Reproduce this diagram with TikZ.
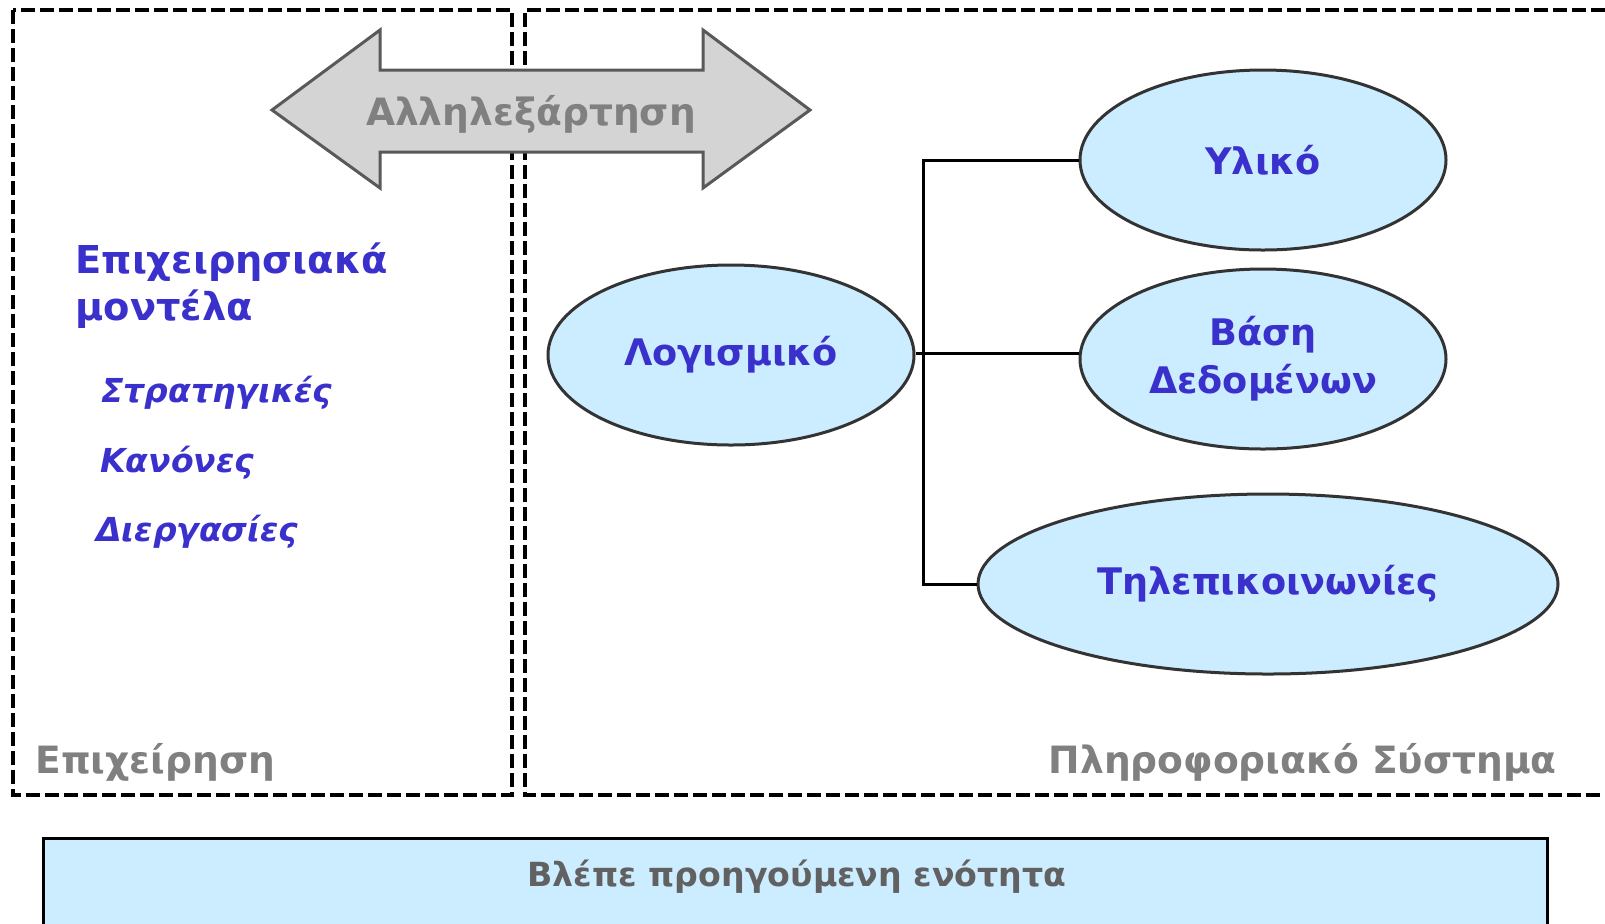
\documentclass[tikz,border=0pt]{standalone}
\usepackage{fontspec}
\setmainfont{DejaVu Sans}
\usepackage{tikz}
\usetikzlibrary{shapes.geometric, calc}
\usepackage{xcolor}
\definecolor{textblue}{RGB}{58,48,204}
\definecolor{textgray}{RGB}{128,128,128}
\definecolor{arrowfill}{RGB}{212,212,212}
\definecolor{partfill}{RGB}{204,236,255}

\begin{document}
\begin{tikzpicture}[x=0.5pt, y=-0.5pt,
    zone/.style={line width=1.8pt, dash pattern=on 7pt off 2.5pt},
    part/.style={ellipse, draw=black!80, line width=1.5pt, fill=partfill, inner sep=0pt,
        minimum width=183pt, minimum height=90pt, text=textblue, align=center,
        font=\bfseries\fontsize{18.3}{24}\selectfont},
    label/.style={text=textgray, font=\bfseries\fontsize{18.8}{22}\selectfont, inner sep=0pt},
    item/.style={text=textblue, font=\bfseries\itshape\fontsize{16.5}{20}\selectfont, anchor=base west, inner sep=0pt}]
        \useasboundingbox (0,0) rectangle (1605,923);
        \draw[zone] (13,10) rectangle (512,795);
        \draw[zone] (1605,10) -- (525,10) -- (525,795) -- (1605,795);
        \filldraw[fill=arrowfill, draw=black!65, line width=1.5pt]
            (272,110) -- (380,30) -- (380,70) -- (703,70) -- (703,30) -- (810,110)
            -- (703,188) -- (703,152) -- (380,152) -- (380,188) -- cycle;
        \node[label] (link) at (531,114) {Αλληλεξάρτηση};
        \node[text=textblue, font=\bfseries\fontsize{19.2}{23.5}\selectfont, align=left,
            anchor=north west, inner sep=0pt] (models) at (75,242) {Επιχειρησιακά\\μοντέλα};
        \node[item] (strat) at (101,402) {Στρατηγικές};
        \node[item] (rules) at (100,472) {Κανόνες};
        \node[item] (proc) at (96,541) {Διεργασίες};
        \node[label, anchor=base west] (firm) at (35,773) {Επιχείρηση};
        \node[label, anchor=base east] (infosys) at (1557,773) {Πληροφοριακό Σύστημα};
        \node[part] (soft) at (731,355) {Λογισμικό};
        \node[part] (hard) at (1263,160) {Υλικό};
        \node[part] (data) at (1263,359) {Βάση\\Δεδομένων};
        \node[part, minimum width=290pt] (tele) at (1268,584) {Τηλεπικοινωνίες};
        \coordinate (hub) at (923,353);
        \draw[line width=1.5pt] (soft.east |- hub) -- (hub) -- (hub -| data.west);
        \draw[line width=1.5pt] (hard.west) -| (hub) |- (tele.west);
        \draw[fill=partfill, line width=1.5pt] (43,838) rectangle (1547,940);
        \node[label, text=black!62, font=\bfseries\fontsize{16.6}{20}\selectfont] (see) at (797,877) {Βλέπε προηγούμενη ενότητα};
    \end{tikzpicture}
\end{document}
